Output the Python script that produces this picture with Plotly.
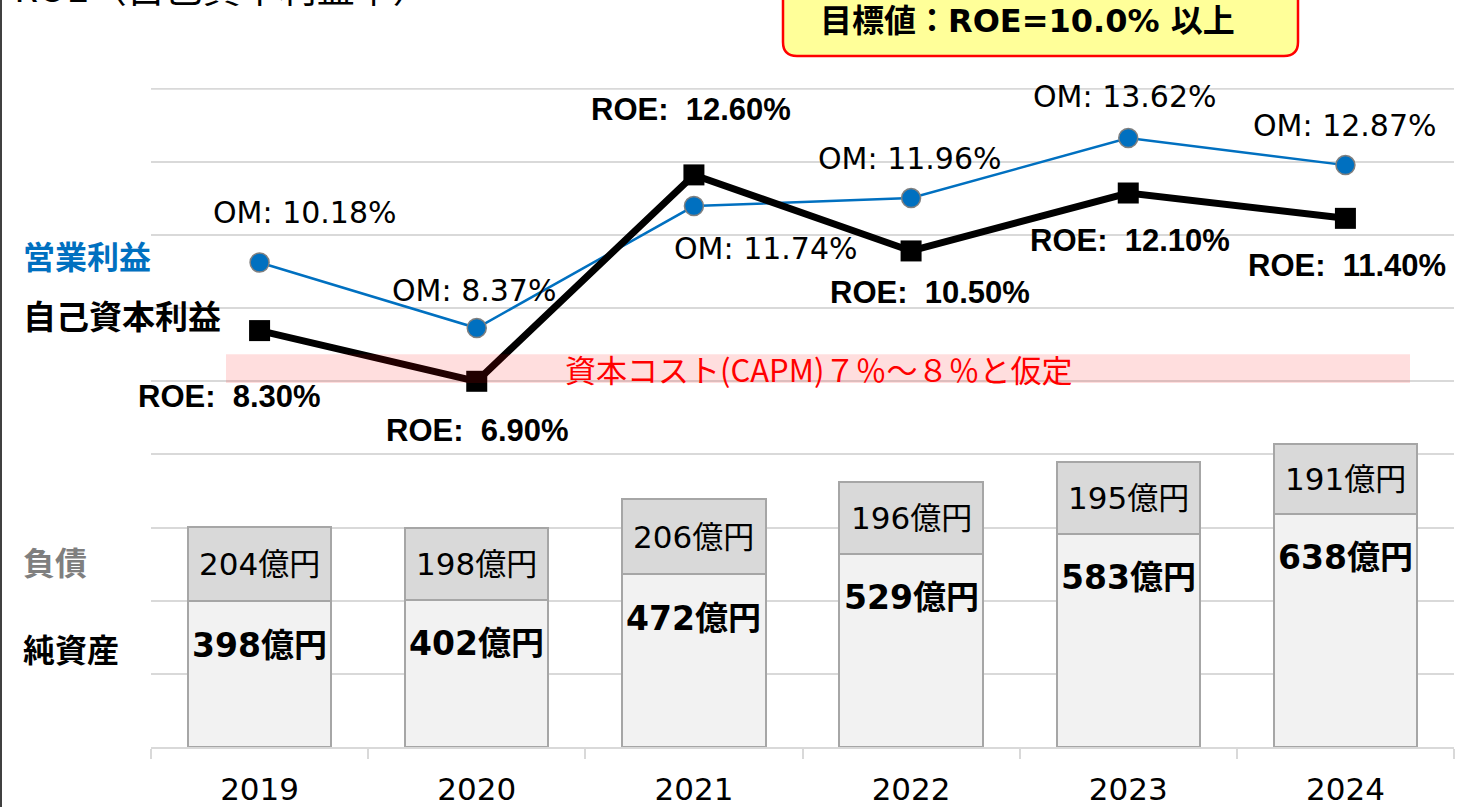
import plotly.graph_objects as go

# ---------------- data ----------------
years = ["2019", "2020", "2021", "2022", "2023", "2024"]
net_assets = [398, 402, 472, 529, 583, 638]      # 純資産 (億円)
liabilities = [204, 198, 206, 196, 195, 191]     # 負債 (億円)
roe = [8.30, 6.90, 12.60, 10.50, 12.10, 11.40]   # 自己資本利益率 (%)
om = [10.18, 8.37, 11.74, 11.96, 13.62, 12.87]   # 営業利益率 (%)
capm_band = [6.85, 7.65]                          # 資本コスト band as drawn (%)
target_roe = 10.0

# ---------------- layout helpers (pixels -> paper) ----------------
W, H = 1475, 807
L, R, T, B = 151, 21, 88, 60
PW, PH = W - L - R, H - T - B


def px(x):
    return (x - L) / PW


def py(y):
    return (H - B - y) / PH


NB = "\u00a0"
LAT = "DejaVu Sans, Noto Sans CJK JP"
CJK = "Noto Sans CJK JP"
ARIAL = "Liberation Sans, Noto Sans CJK JP"
GRID = "#d9d9d9"

fig = go.Figure()

# stacked bars
fig.add_trace(go.Bar(
    x=years, y=net_assets, name="純資産",
    marker=dict(color="#f2f2f2", line=dict(color="#a6a6a6", width=2)),
    hoverinfo="skip",
))
fig.add_trace(go.Bar(
    x=years, y=liabilities, name="負債",
    marker=dict(color="#d9d9d9", line=dict(color="#a6a6a6", width=2)),
    hoverinfo="skip",
))

# lines on secondary axis
fig.add_trace(go.Scatter(
    x=years, y=om, yaxis="y2", mode="lines+markers", name="営業利益率",
    line=dict(color="#0070c0", width=2.5),
    marker=dict(symbol="circle", size=19, color="#0070c0",
                line=dict(color="#7f7f7f", width=1.5)),
    cliponaxis=False, hoverinfo="skip",
))
fig.add_trace(go.Scatter(
    x=years, y=roe, yaxis="y2", mode="lines+markers", name="ROE",
    line=dict(color="#000000", width=7),
    marker=dict(symbol="square", size=21, color="#000000"),
    cliponaxis=False, hoverinfo="skip",
))

annotations = []

# liabilities labels (centred in the upper segment); x = category index
for i, (n, v) in enumerate(zip(net_assets, liabilities)):
    annotations.append(dict(
        x=i, y=n + v / 2, xref="x", yref="y", text=f"{v}億円",
        showarrow=False, xanchor="center", yanchor="middle",
        font=dict(family=LAT, size=31, color="#000000"),
    ))

# net asset labels (bold, near top of the lower segment)
for i, v in enumerate(net_assets):
    annotations.append(dict(
        x=i, y=v, xref="x", yref="y", text=f"<b>{v}億円</b>",
        showarrow=False, yshift=-44, xanchor="center", yanchor="middle",
        font=dict(family=LAT, size=33, color="#000000"),
    ))

# ROE labels (offsets in pixels)
roe_off = [(-30, -66), (1, -49), (-3, 65), (19, -42), (2, -47), (2, -47)]
for i, (v, (dx, dy)) in enumerate(zip(roe, roe_off)):
    annotations.append(dict(
        x=i, y=v, xref="x", yref="y2", text=f"<b>ROE:{NB} {v:.2f}%</b>",
        showarrow=False, xshift=dx, yshift=dy, xanchor="center", yanchor="middle",
        font=dict(family=ARIAL, size=31, color="#000000"),
    ))

# OM labels
om_off = [(45, 50), (-3, 38), (72, -42), (-1, 40), (-3, 41), (0, 40)]
for i, (v, (dx, dy)) in enumerate(zip(om, om_off)):
    annotations.append(dict(
        x=i, y=v, xref="x", yref="y2", text=f"OM: {v:.2f}%",
        showarrow=False, xshift=dx, yshift=dy, xanchor="center", yanchor="middle",
        font=dict(family=LAT, size=30, color="#000000"),
    ))

# CAPM band text
annotations.append(dict(
    x=px(818), y=(capm_band[0] + capm_band[1]) / 2, xref="paper", yref="y2",
    text="資本コスト(CAPM)７％～８％と仮定", showarrow=False,
    xanchor="center", yanchor="middle",
    font=dict(family=CJK, size=31, color="#ff0000"),
))

# left side legend-like labels
side = [("営業利益", 255, "#0070c0", 32), ("自己資本利益", 315, "#000000", 33),
        ("負債", 561, "#7f7f7f", 32), ("純資産", 648, "#000000", 32)]
for txt, yy, col, fs in side:
    annotations.append(dict(
        x=px(21), y=py(yy), xref="paper", yref="paper", text=f"<b>{txt}</b>",
        showarrow=False, xanchor="left", yanchor="middle",
        font=dict(family=CJK, size=fs, color=col),
    ))

# title (mostly cut off at top)
annotations.append(dict(
    x=px(12), y=py(-14), xref="paper", yref="paper",
    text="ROE（自己資本利益率）", showarrow=False,
    xanchor="left", yanchor="middle",
    font=dict(family=CJK, size=38, color="#000000"),
))

# target box text
annotations.append(dict(
    x=px(1027), y=py(21), xref="paper", yref="paper",
    text=f"<b>目標値：ROE={target_roe:.1f}% 以上</b>", showarrow=False,
    xanchor="center", yanchor="middle",
    font=dict(family=LAT, size=32, color="#000000"),
))

# shapes
x0, x1 = px(783), px(1298)
yb, yt = py(56), py(-20)
rx, ry = 14 / PW, 14 / PH
box_path = (f"M {x0},{yt} L {x0},{yb + ry} Q {x0},{yb} {x0 + rx},{yb} "
            f"L {x1 - rx},{yb} Q {x1},{yb} {x1},{yb + ry} L {x1},{yt} Z")

shapes = [
    # top gridline (1800) at the plot edge
    dict(type="line", xref="paper", yref="y", x0=0, x1=1, y0=1800, y1=1800,
         line=dict(color=GRID, width=2), layer="below"),
    dict(type="rect", xref="paper", yref="y2", x0=px(226), x1=px(1410),
         y0=capm_band[0], y1=capm_band[1],
         fillcolor="rgba(255,0,0,0.13)", line=dict(width=0), layer="above"),
    dict(type="path", xref="paper", yref="paper", path=box_path,
         fillcolor="#ffff99", line=dict(color="#ff0000", width=2.5), layer="above"),
    dict(type="line", xref="paper", yref="paper", x0=px(1), x1=px(1),
         y0=py(0), y1=py(H), line=dict(color="#404040", width=2)),
]

fig.update_layout(
    width=W, height=H,
    margin=dict(l=L, r=R, t=T, b=B, pad=0, autoexpand=False),
    paper_bgcolor="#ffffff", plot_bgcolor="#ffffff",
    barmode="stack", bargap=0.34,
    showlegend=False,
    xaxis=dict(
        type="category", categoryorder="array", categoryarray=years,
        range=[-0.5, len(years) - 0.5], autorange=False, automargin=False,
        showgrid=False, showline=True, linecolor=GRID,
        linewidth=2, ticks="outside", tickson="boundaries", ticklen=10,
        tickcolor=GRID, tickwidth=2, ticklabelstandoff=14,
        tickangle=0,
        tickfont=dict(family=LAT, size=31, color="#000000"),
        fixedrange=True,
    ),
    yaxis=dict(
        range=[0, 1802], dtick=200, showgrid=True, gridcolor=GRID,
        gridwidth=2, showticklabels=False, zeroline=False, showline=False,
        automargin=False, fixedrange=True,
    ),
    yaxis2=dict(
        range=[-3.2, 15.0], overlaying="y", visible=False, fixedrange=True,
    ),
    annotations=annotations,
    shapes=shapes,
)

fig.write_html("out.html", config={"displayModeBar": False},
               post_script="document.body.style.margin='0px';")
